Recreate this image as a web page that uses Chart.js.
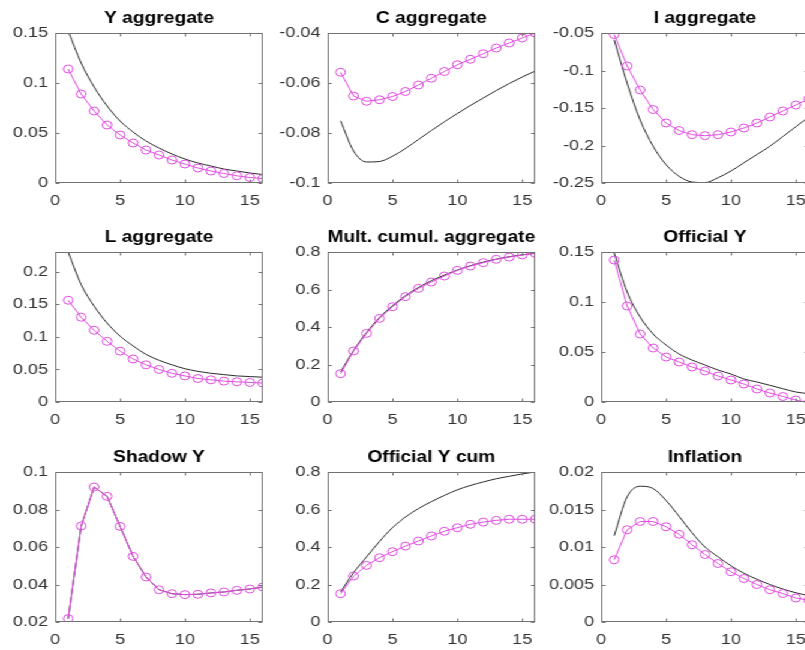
<!DOCTYPE html>
<html>
<head>
<meta charset="utf-8">
<script src="https://cdn.jsdelivr.net/npm/chart.js@4.4.1/dist/chart.umd.min.js"></script>
<style>
  html, body { margin: 0; padding: 0; background: #fff; width: 805px; height: 650px; overflow: hidden; }
  /* the whole figure is a little wider than tall, like the exported image */
  #grid { position: absolute; left: 0; top: 0; width: 680px; height: 650px; transform: scaleX(1.2); transform-origin: 0 0; }
  #grid canvas { position: absolute; }
</style>
</head>
<body>
<div id="grid"></div>
<script>
// horizon of the impulse responses
const periods = [1, 2, 3, 4, 5, 6, 7, 8, 9, 10, 11, 12, 13, 14, 15, 16];
const xTicks = [0, 5, 10, 15];

// full model (black line) and approximation (magenta circles)
const yAggFull = [0.152, 0.120, 0.096, 0.077, 0.062, 0.051, 0.042, 0.035, 0.029, 0.024, 0.020, 0.017, 0.014, 0.012, 0.010, 0.0085];
const yAggSim  = [0.114, 0.089, 0.072, 0.058, 0.048, 0.040, 0.033, 0.028, 0.023, 0.019, 0.015, 0.012, 0.0095, 0.0072, 0.0055, 0.0045];

const cAggFull = [-0.0751, -0.0872, -0.0916, -0.0914, -0.0893, -0.0862, -0.0826, -0.0790, -0.0755, -0.0722, -0.0690, -0.0660, -0.0630, -0.0602, -0.0576, -0.0552];
const cAggSim  = [-0.0557, -0.0652, -0.0673, -0.0667, -0.0654, -0.0634, -0.0608, -0.0581, -0.0554, -0.0527, -0.0505, -0.0483, -0.0460, -0.0440, -0.0420, -0.0400];

const iAggFull = [-0.059, -0.117, -0.166, -0.201, -0.2256, -0.241, -0.2487, -0.2495, -0.243, -0.234, -0.223, -0.212, -0.201, -0.188, -0.175, -0.162];
const iAggSim  = [-0.052, -0.094, -0.126, -0.152, -0.170, -0.180, -0.1856, -0.1869, -0.1856, -0.182, -0.1767, -0.170, -0.162, -0.154, -0.146, -0.138];

const lAggFull = [0.230, 0.180, 0.147, 0.121, 0.101, 0.086, 0.073, 0.064, 0.057, 0.051, 0.047, 0.044, 0.042, 0.040, 0.039, 0.038];
const lAggSim  = [0.156, 0.130, 0.110, 0.093, 0.078, 0.066, 0.057, 0.050, 0.044, 0.040, 0.036, 0.034, 0.032, 0.031, 0.030, 0.029];

const multFull = [0.160, 0.275, 0.370, 0.450, 0.514, 0.567, 0.611, 0.647, 0.677, 0.704, 0.727, 0.746, 0.762, 0.775, 0.785, 0.793];
const multSim  = [0.151, 0.272, 0.366, 0.446, 0.508, 0.562, 0.606, 0.640, 0.672, 0.702, 0.725, 0.743, 0.761, 0.773, 0.784, 0.793];

const offYFull = [0.149, 0.110, 0.085, 0.068, 0.057, 0.048, 0.042, 0.037, 0.032, 0.028, 0.023, 0.020, 0.0167, 0.0133, 0.010, 0.0083];
const offYSim  = [0.142, 0.096, 0.068, 0.054, 0.045, 0.040, 0.035, 0.031, 0.026, 0.022, 0.018, 0.013, 0.009, 0.0055, 0.002, -0.001];

const shadowFull = [0.0218, 0.0712, 0.092, 0.087, 0.071, 0.055, 0.044, 0.0372, 0.0351, 0.0346, 0.0348, 0.0355, 0.036, 0.0369, 0.0376, 0.0387];
const shadowSim  = [0.0218, 0.0712, 0.092, 0.087, 0.071, 0.055, 0.044, 0.0372, 0.0351, 0.0346, 0.0348, 0.0355, 0.036, 0.0369, 0.0376, 0.0387];

const offCumFull = [0.160, 0.263, 0.347, 0.430, 0.503, 0.560, 0.605, 0.642, 0.675, 0.705, 0.728, 0.747, 0.764, 0.777, 0.790, 0.800];
const offCumSim  = [0.151, 0.245, 0.302, 0.343, 0.375, 0.405, 0.432, 0.459, 0.484, 0.503, 0.521, 0.533, 0.542, 0.548, 0.548, 0.548];

const inflFull = [0.0115, 0.0167, 0.0181, 0.0178, 0.0162, 0.0141, 0.0119, 0.0100, 0.0087, 0.0075, 0.0065, 0.0057, 0.0050, 0.0044, 0.0039, 0.0035];
const inflSim  = [0.0083, 0.0123, 0.0134, 0.0134, 0.0127, 0.0117, 0.0103, 0.0090, 0.0078, 0.0067, 0.0058, 0.0050, 0.0043, 0.0038, 0.0032, 0.0029];

// y limits and tick labels of each subplot
const yAggTicks = [0, 0.05, 0.1, 0.15];
const cAggTicks = [-0.1, -0.08, -0.06, -0.04];
const iAggTicks = [-0.25, -0.2, -0.15, -0.1, -0.05];
const lAggTicks = [0, 0.05, 0.1, 0.15, 0.2];
const multTicks = [0, 0.2, 0.4, 0.6, 0.8];
const offYTicks = [0, 0.05, 0.1, 0.15];
const shadowTicks = [0.02, 0.04, 0.06, 0.08, 0.1];
const offCumTicks = [0, 0.2, 0.4, 0.6, 0.8];
const inflTicks = [0, 0.005, 0.01, 0.015, 0.02];

const panels = [
  { title: 'Y aggregate', full: yAggFull, sim: yAggSim, min: 0, max: 0.15, ticks: yAggTicks },
  { title: 'C aggregate', full: cAggFull, sim: cAggSim, min: -0.1, max: -0.04, ticks: cAggTicks },
  { title: 'I aggregate', full: iAggFull, sim: iAggSim, min: -0.25, max: -0.05, ticks: iAggTicks },
  { title: 'L aggregate', full: lAggFull, sim: lAggSim, min: 0, max: 0.23, ticks: lAggTicks },
  { title: 'Mult. cumul. aggregate', full: multFull, sim: multSim, min: 0, max: 0.8, ticks: multTicks },
  { title: 'Official Y', full: offYFull, sim: offYSim, min: 0, max: 0.15, ticks: offYTicks },
  { title: 'Shadow Y', full: shadowFull, sim: shadowSim, min: 0.02, max: 0.1, ticks: shadowTicks, straight: true },
  { title: 'Official Y cum', full: offCumFull, sim: offCumSim, min: 0, max: 0.8, ticks: offCumTicks },
  { title: 'Inflation', full: inflFull, sim: inflSim, min: 0, max: 0.02, ticks: inflTicks }
];

// grid geometry (before the horizontal stretch)
const colLeft = [0, 227, 455];
const rowTop = [10, 229, 449];
const canvasW = 226, canvasH = 197;
const yAxisW = 46, xAxisH = 24;

const FONT = "'Liberation Sans', Helvetica, Arial, sans-serif";
const MAGENTA = '#e04ce0';

// box around the axes with small inward ticks on all four sides
const boxPlugin = {
  id: 'box',
  afterDraw(chart) {
    const { ctx, chartArea: a, scales } = chart;
    const l = Math.round(a.left) + 0.5, r = Math.round(a.right) - 0.5;
    const t = Math.round(a.top) + 0.5, b = Math.round(a.bottom) - 0.5;
    ctx.save();
    ctx.strokeStyle = '#727272';
    ctx.lineWidth = 1;
    ctx.strokeRect(l, t, r - l, b - t);
    ctx.beginPath();
    scales.x.ticks.forEach(tk => {
      const px = Math.round(scales.x.getPixelForValue(tk.value)) + 0.5;
      ctx.moveTo(px, b); ctx.lineTo(px, b - 3);
      ctx.moveTo(px, t); ctx.lineTo(px, t + 3);
    });
    scales.y.ticks.forEach(tk => {
      const py = Math.round(scales.y.getPixelForValue(tk.value)) + 0.5;
      ctx.moveTo(l, py); ctx.lineTo(l + 3, py);
      ctx.moveTo(r, py); ctx.lineTo(r - 3, py);
    });
    ctx.stroke();
    ctx.restore();
  }
};

const fmt = v => String(parseFloat(Number(v).toFixed(6)));

panels.forEach((p, i) => {
  const canvas = document.createElement('canvas');
  canvas.width = canvasW;
  canvas.height = canvasH;
  canvas.style.left = colLeft[i % 3] + 'px';
  canvas.style.top = rowTop[Math.floor(i / 3)] + 'px';
  document.getElementById('grid').appendChild(canvas);

  new Chart(canvas, {
    type: 'line',
    data: {
      datasets: [
        {
          data: periods.map((x, k) => ({ x: x, y: p.sim[k] })),
          borderColor: MAGENTA,
          borderWidth: 1,
          pointStyle: 'circle',
          pointRadius: 4,
          pointBorderColor: MAGENTA,
          pointBorderWidth: 1,
          pointBackgroundColor: 'rgba(0,0,0,0)',
          tension: 0
        },
        {
          data: periods.map((x, k) => ({ x: x, y: p.full[k] })),
          borderColor: '#2a2a2a',
          borderWidth: 1,
          pointRadius: 0,
          cubicInterpolationMode: p.straight ? 'default' : 'monotone',
          tension: 0
        }
      ]
    },
    options: {
      responsive: false,
      animation: false,
      events: [],
      layout: { padding: { left: 0, right: 7, top: 0, bottom: 0 } },
      plugins: {
        legend: { display: false },
        tooltip: { enabled: false },
        title: {
          display: true,
          fullSize: false,
          text: p.title,
          color: '#000',
          font: { family: FONT, size: 16, weight: 'bold', lineHeight: '18px' },
          padding: { top: 0, bottom: 5 }
        }
      },
      scales: {
        x: {
          type: 'linear',
          min: 0,
          max: 16,
          afterBuildTicks: s => { s.ticks = xTicks.map(v => ({ value: v })); },
          afterFit: s => { s.height = xAxisH; },
          grid: { display: false, drawTicks: false },
          border: { display: false },
          ticks: { color: '#333', padding: 9, maxRotation: 0, font: { family: FONT, size: 15 }, callback: fmt }
        },
        y: {
          type: 'linear',
          min: p.min,
          max: p.max,
          afterBuildTicks: s => { s.ticks = p.ticks.map(v => ({ value: v })); },
          afterFit: s => { s.width = yAxisW; },
          grid: { display: false, drawTicks: false },
          border: { display: false },
          ticks: { color: '#333', padding: 6, font: { family: FONT, size: 15 }, callback: fmt }
        }
      }
    },
    plugins: [boxPlugin]
  });
});
</script>
</body>
</html>
